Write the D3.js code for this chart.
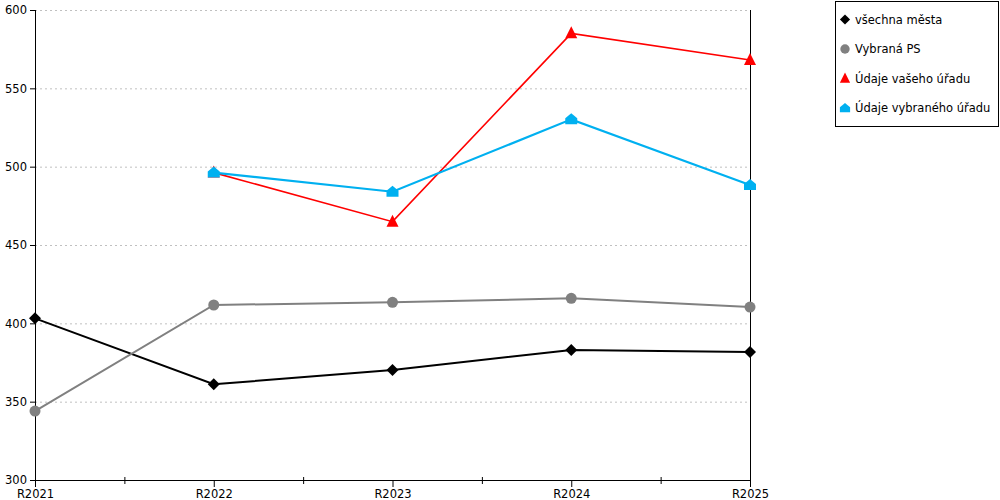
<!DOCTYPE html>
<html>
<head>
<meta charset="utf-8">
<script src="https://cdn.jsdelivr.net/npm/d3@7"></script>
<style>
  body { margin: 0; background: #fff; }
  text { font-family: "DejaVu Sans", Verdana, sans-serif; }
</style>
</head>
<body>
<script>
var svgWidth = 1000;
var svgHeight = 500;

var categories = ["R2021", "R2022", "R2023", "R2024", "R2025"];
var yTicks = [300, 350, 400, 450, 500, 550, 600];

var vsechnaMesta = [403.2, 361.1, 370.2, 383.0, 381.7];
var vybranaPS = [344.0, 411.7, 413.4, 416.0, 410.4];
var vasUrad = [null, 496.2, 464.9, 585.1, 568.1];
var vybranyUrad = [null, 496.2, 484.0, 530.2, 488.3];

var seriesNames = ["všechna města", "Vybraná PS", "Údaje vašeho úřadu", "Údaje vybraného úřadu"];

var series = [
  { name: seriesNames[0], values: vsechnaMesta, color: "#000000", width: 2, marker: "diamond" },
  { name: seriesNames[1], values: vybranaPS, color: "#808080", width: 2, marker: "circle" },
  { name: seriesNames[2], values: vasUrad, color: "#ff0000", width: 1.6, marker: "triangle" },
  { name: seriesNames[3], values: vybranyUrad, color: "#00b0f0", width: 2.2, marker: "house" }
];

var margin = { top: 10, left: 35 };
var width = 715;
var height = 470;

var svg = d3.select("body")
  .append("svg")
  .attr("width", svgWidth)
  .attr("height", svgHeight);

var g = svg.append("g")
  .attr("transform", "translate(" + margin.left + "," + margin.top + ")");

var x = d3.scalePoint().domain(categories).range([0, width]);
var y = d3.scaleLinear().domain([300, 600]).range([height, 0]);

// grid
g.append("g").selectAll("line")
  .data(yTicks.slice(1))
  .enter().append("line")
  .attr("x1", 0).attr("x2", width)
  .attr("y1", d => y(d) + 0.5).attr("y2", d => y(d) + 0.5)
  .attr("stroke", "#c0c0c0")
  .attr("stroke-dasharray", "2,3");

// right border line
g.append("line")
  .attr("x1", width + 0.5).attr("x2", width + 0.5)
  .attr("y1", 0).attr("y2", height)
  .attr("stroke", "#000")
  .attr("shape-rendering", "crispEdges");

// y axis
var yAxis = g.append("g")
  .call(d3.axisLeft(y).tickValues(yTicks).tickSize(5).tickPadding(3));
yAxis.select(".domain").attr("stroke", "#000").attr("d", "M0.5,0V" + height);
yAxis.selectAll("text").attr("font-size", 11.5).attr("fill", "#000")
  .style("font-family", "DejaVu Sans, Verdana, sans-serif");

// x axis
var xAxis = g.append("g")
  .attr("transform", "translate(0," + height + ")")
  .call(d3.axisBottom(x).tickSize(7).tickPadding(3));
xAxis.select(".domain").attr("d", "M0,0.5H" + width);
xAxis.selectAll("text").attr("font-size", 11.5).attr("fill", "#000")
  .style("font-family", "DejaVu Sans, Verdana, sans-serif");

// minor ticks between categories
var step = x.step();
g.append("g").selectAll("line")
  .data(categories.slice(1))
  .enter().append("line")
  .attr("x1", d => x(d) - step / 2 + 0.5).attr("x2", d => x(d) - step / 2 + 0.5)
  .attr("y1", height - 3).attr("y2", height + 4)
  .attr("stroke", "#000");

function markerPath(type) {
  if (type === "diamond") return "M0,-6L6,0L0,6L-6,0Z";
  if (type === "triangle") return "M0,-7L6,5L-6,5Z";
  if (type === "house") return "M0,-6L6,-1L6,5L-6,5L-6,-1Z";
  return null;
}

function drawMarker(sel, s) {
  if (s.marker === "circle") {
    sel.append("circle").attr("r", 5.5).attr("fill", s.color);
  } else {
    sel.append("path").attr("d", markerPath(s.marker)).attr("fill", s.color);
  }
}

var line = d3.line()
  .defined(d => d.v != null)
  .x(d => x(d.c))
  .y(d => y(d.v));

series.forEach(function(s) {
  var pts = categories.map((c, i) => ({ c: c, v: s.values[i] }));
  g.append("path")
    .datum(pts)
    .attr("d", line)
    .attr("fill", "none")
    .attr("stroke", s.color)
    .attr("stroke-width", s.width);
  g.append("g").selectAll("g")
    .data(pts.filter(d => d.v != null))
    .enter().append("g")
    .attr("transform", d => "translate(" + x(d.c) + "," + y(d.v) + ")")
    .each(function() { drawMarker(d3.select(this), s); });
});

// legend
var legend = svg.append("g").attr("transform", "translate(835,1)");
legend.append("rect")
  .attr("x", 0.5).attr("y", 0.5)
  .attr("width", 163).attr("height", 125)
  .attr("fill", "#fff").attr("stroke", "#000");

series.forEach(function(s, i) {
  var item = legend.append("g").attr("transform", "translate(0," + (18.5 + i * 29.5) + ")");
  var m = item.append("g").attr("transform", "translate(10,0) scale(0.85)");
  drawMarker(m, s);
  item.append("text")
    .attr("x", 20).attr("y", 0)
    .attr("dy", "0.35em")
    .attr("font-size", 11.5)
    .text(s.name);
});
</script>
</body>
</html>
